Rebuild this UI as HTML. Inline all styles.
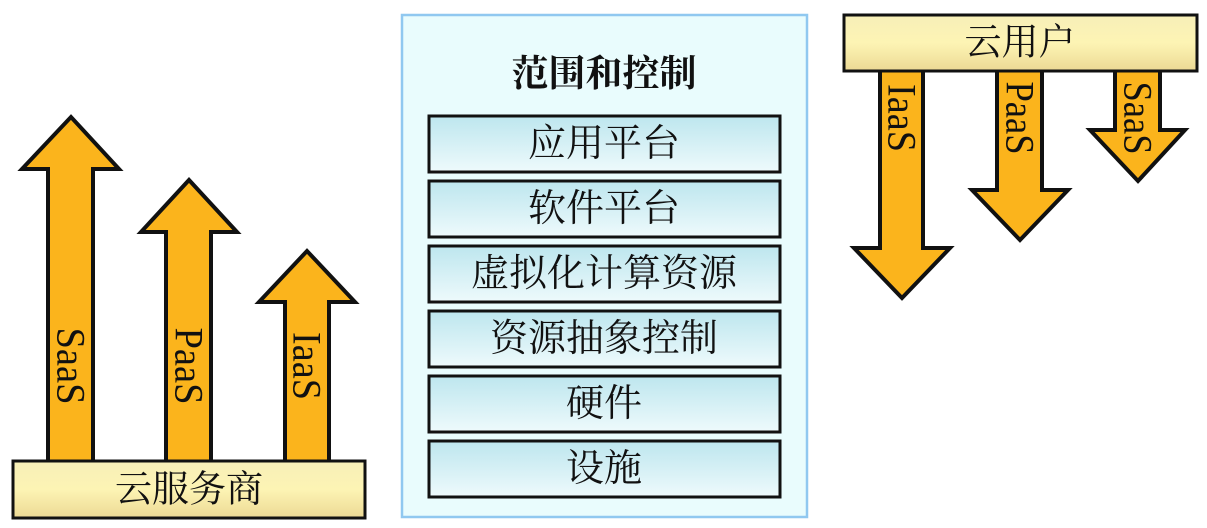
<!DOCTYPE html>
<html><head><meta charset="utf-8"><style>
html,body{margin:0;padding:0;background:#fff;width:1207px;height:528px;overflow:hidden}
</style></head><body>
<svg width="1207" height="528" viewBox="0 0 1207 528" xmlns="http://www.w3.org/2000/svg">
<defs>
<linearGradient id="tan" x1="0" y1="0" x2="0" y2="1"><stop offset="0" stop-color="#f7efb8"/><stop offset="0.5" stop-color="#fdf4b4"/><stop offset="1" stop-color="#ecd994"/></linearGradient>
<linearGradient id="cy" x1="0" y1="0" x2="0" y2="1"><stop offset="0" stop-color="#bde6ee"/><stop offset="1" stop-color="#eefafc"/></linearGradient>
</defs>
<g stroke="#111" stroke-width="4" fill="#fbb41c" stroke-linejoin="miter">
<polygon points="48,462 48,169 22,169 71,117 119,169 93,169 93,462"/>
<polygon points="166,462 166,232 141,232 189,180 237,232 211,232 211,462"/>
<polygon points="285,462 285,302 259,302 307,251 355,302 329,302 329,462"/>
<polygon points="880,70 880,248 854,248 902,298 950,248 923,248 923,70"/>
<polygon points="997,70 997,190 972,190 1020,240 1068,190 1042,190 1042,70"/>
<polygon points="1115,70 1115,130 1090,130 1138,181 1185,130 1160,130 1160,70"/>
</g>
<rect x="13" y="461" width="352" height="57" fill="url(#tan)" stroke="#111" stroke-width="3"/>
<rect x="844" y="15" width="353" height="56" fill="url(#tan)" stroke="#111" stroke-width="3"/>
<g font-family="Liberation Serif, serif" font-size="40" fill="#111" text-anchor="middle" dominant-baseline="central">
<text transform="translate(71,366) rotate(90)" textLength="77" lengthAdjust="spacingAndGlyphs">SaaS</text>
<text transform="translate(189,366) rotate(90)" textLength="77" lengthAdjust="spacingAndGlyphs">PaaS</text>
<text transform="translate(307,366) rotate(90)" textLength="68" lengthAdjust="spacingAndGlyphs">IaaS</text>
<text transform="translate(902,118) rotate(90)" textLength="68" lengthAdjust="spacingAndGlyphs">IaaS</text>
<text transform="translate(1020,118) rotate(90)" textLength="73" lengthAdjust="spacingAndGlyphs">PaaS</text>
<text transform="translate(1138,118) rotate(90)" textLength="73" lengthAdjust="spacingAndGlyphs">SaaS</text>
</g>
<g font-family="Liberation Serif, 'Noto Serif CJK SC', serif" font-size="37" fill="#111" text-anchor="middle" dominant-baseline="central">
<text x="189" y="490">云服务商</text>
<text x="1020" y="43">云用户</text>
</g>
<rect x="402" y="15" width="405" height="502" fill="#e9fcfd" stroke="#90c8f0" stroke-width="2.5"/>
<text x="604" y="70" font-family="'Noto Serif CJK SC', serif" font-size="37" font-weight="bold" fill="#111" text-anchor="middle" dominant-baseline="central">范围和控制</text>
<g stroke="#111" stroke-width="3" fill="url(#cy)">
<rect x="429" y="116" width="351" height="56"/>
<rect x="429" y="181" width="351" height="56"/>
<rect x="429" y="246" width="351" height="56"/>
<rect x="429" y="311" width="351" height="56"/>
<rect x="429" y="376" width="351" height="56"/>
<rect x="429" y="441" width="351" height="56"/>
</g>
<g font-family="Liberation Serif, 'Noto Serif CJK SC', serif" font-size="38" fill="#111" text-anchor="middle" dominant-baseline="central">
<text x="604" y="144">应用平台</text>
<text x="604" y="209">软件平台</text>
<text x="604" y="274">虚拟化计算资源</text>
<text x="604" y="339">资源抽象控制</text>
<text x="604" y="404">硬件</text>
<text x="604" y="469">设施</text>
</g>
</svg>
</body></html>
